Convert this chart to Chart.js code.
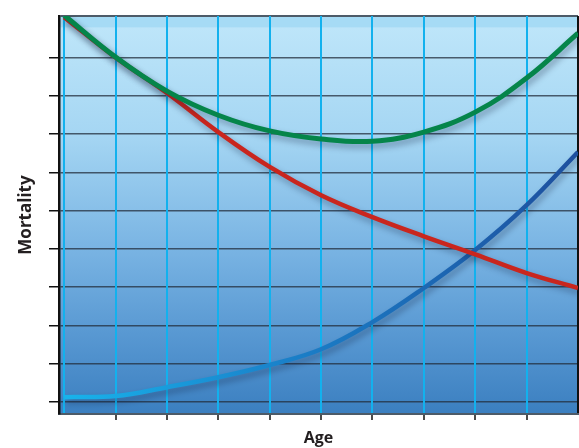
<!DOCTYPE html>
<html>
<head>
<meta charset="utf-8">
<script src="https://cdn.jsdelivr.net/npm/chart.js"></script>
<style>
  html, body { margin: 0; padding: 0; background: #fff; }
  #wrap { width: 579px; height: 448px; }
</style>
</head>
<body>
<div id="wrap"><canvas id="mortalityChart" width="579" height="448"></canvas></div>
<script>
// Datos
const ages = [0, 1, 2, 3, 4, 5, 6, 7, 8, 9, 10];
const totalMortality = [10.1, 9.01, 8.12, 7.49, 7.08, 6.87, 6.81, 7.05, 7.57, 8.46, 9.63];
const infantMortality = [10.05, 9.0, 8.07, 7.05, 6.14, 5.4, 4.83, 4.33, 3.86, 3.37, 2.98];
const agingMortality = [0.13, 0.16, 0.39, 0.65, 0.97, 1.38, 2.09, 2.98, 3.97, 5.14, 6.53];
const yTicks = [0, 1, 2, 3, 4, 5, 6, 7, 8, 9];
const xTicks = [0, 1, 2, 3, 4, 5, 6, 7, 8, 9, 10];

const toPoints = (values) => values.map((v, i) => ({ x: ages[i], y: v }));

// Fondo degradado del área del gráfico
const backgroundPlugin = {
    id: 'plotBackground',
    beforeDraw(chart) {
        const { ctx, chartArea: a } = chart;
        const g = ctx.createLinearGradient(0, a.top, 0, a.bottom);
        g.addColorStop(0, '#a6dbf5');
        g.addColorStop(0.027, '#a6dbf5');
        g.addColorStop(0.03, '#bde5f9');
        g.addColorStop(0.3, '#a5d6f3');
        g.addColorStop(0.6, '#77b2e2');
        g.addColorStop(0.8, '#5898d2');
        g.addColorStop(1, '#3b7fc0');
        ctx.save();
        ctx.fillStyle = g;
        ctx.fillRect(a.left, a.top, a.right - a.left, a.bottom - a.top);
        ctx.restore();
    }
};

// Sombra suave debajo de las curvas
const shadowPlugin = {
    id: 'lineShadow',
    beforeDatasetDraw(chart) {
        const ctx = chart.ctx;
        ctx.save();
        ctx.shadowColor = 'rgba(10, 20, 50, 0.35)';
        ctx.shadowBlur = 6;
        ctx.shadowOffsetX = 2;
        ctx.shadowOffsetY = 4;
    },
    afterDatasetDraw(chart) {
        chart.ctx.restore();
    }
};

const blueStroke = (context) => {
    const { ctx, chartArea } = context.chart;
    if (!chartArea) return '#1f5aa5';
    const g = ctx.createLinearGradient(chartArea.left, 0, chartArea.right, 0);
    g.addColorStop(0, '#18b4ec');
    g.addColorStop(0.45, '#1a7fc8');
    g.addColorStop(1, '#1e4f9e');
    return g;
};

const ctx = document.getElementById('mortalityChart').getContext('2d');
new Chart(ctx, {
    type: 'line',
    data: {
        datasets: [
            {
                label: 'Total',
                data: toPoints(totalMortality),
                borderColor: '#05854a',
                borderWidth: 5
            },
            {
                label: 'Infant',
                data: toPoints(infantMortality),
                borderColor: '#c9261e',
                borderWidth: 4.5
            },
            {
                label: 'Aging',
                data: toPoints(agingMortality),
                borderColor: blueStroke,
                borderWidth: 4.5
            }
        ]
    },
    options: {
        responsive: false,
        animation: false,
        devicePixelRatio: 1,
        layout: { padding: { top: 16, right: 1, left: 0, bottom: 0 } },
        elements: {
            point: { radius: 0 },
            line: { tension: 0.4, capBezierPoints: true }
        },
        plugins: {
            legend: { display: false },
            tooltip: { enabled: false }
        },
        scales: {
            x: {
                type: 'linear',
                min: -0.1,
                max: 10,
                afterBuildTicks: (scale) => { scale.ticks = xTicks.map(v => ({ value: v })); },
                afterFit: (scale) => { scale.height = 34; },
                ticks: { display: false },
                border: { display: true, color: '#4d5b68', width: 2 },
                grid: {
                    color: (c) => c.tick && c.tick.value === 10 ? '#111' : '#12b1ee',
                    lineWidth: (c) => c.tick && c.tick.value === 10 ? 2.5 : 2,
                    tickColor: (c) => c.tick && c.tick.value > 0 && c.tick.value < 10 ? '#111' : 'rgba(0,0,0,0)',
                    tickLength: 6,
                    tickWidth: 1.5,
                    z: 0
                },
                title: {
                    display: true,
                    text: 'Age',
                    color: '#231f20',
                    font: { family: 'Open Sans', size: 16, weight: 'bold' },
                    padding: { top: 0, bottom: 0 }
                }
            },
            y: {
                type: 'linear',
                min: -0.31,
                max: 10.08,
                afterBuildTicks: (scale) => {
                    scale.ticks = yTicks.map(v => ({ value: v })).concat([{ value: 10.08 }]);
                },
                afterFit: (scale) => { scale.width = 59; },
                ticks: { display: false },
                border: { display: true, color: '#111', width: 2.5 },
                grid: {
                    color: (c) => c.tick && c.tick.value > 9.5 ? '#4d5b68' : 'rgba(35, 45, 60, 0.75)',
                    lineWidth: (c) => c.tick && c.tick.value > 9.5 ? 2 : 1.5,
                    tickColor: (c) => c.tick && c.tick.value > 9.5 ? 'rgba(0,0,0,0)' : '#111',
                    tickLength: 10,
                    tickWidth: 1.5
                },
                title: {
                    display: true,
                    text: 'Mortality',
                    color: '#231f20',
                    font: { family: 'Open Sans', size: 17, weight: 'bold' },
                    padding: { top: 16, bottom: 0 }
                }
            }
        }
    },
    plugins: [backgroundPlugin, shadowPlugin]
});
</script>
</body>
</html>
